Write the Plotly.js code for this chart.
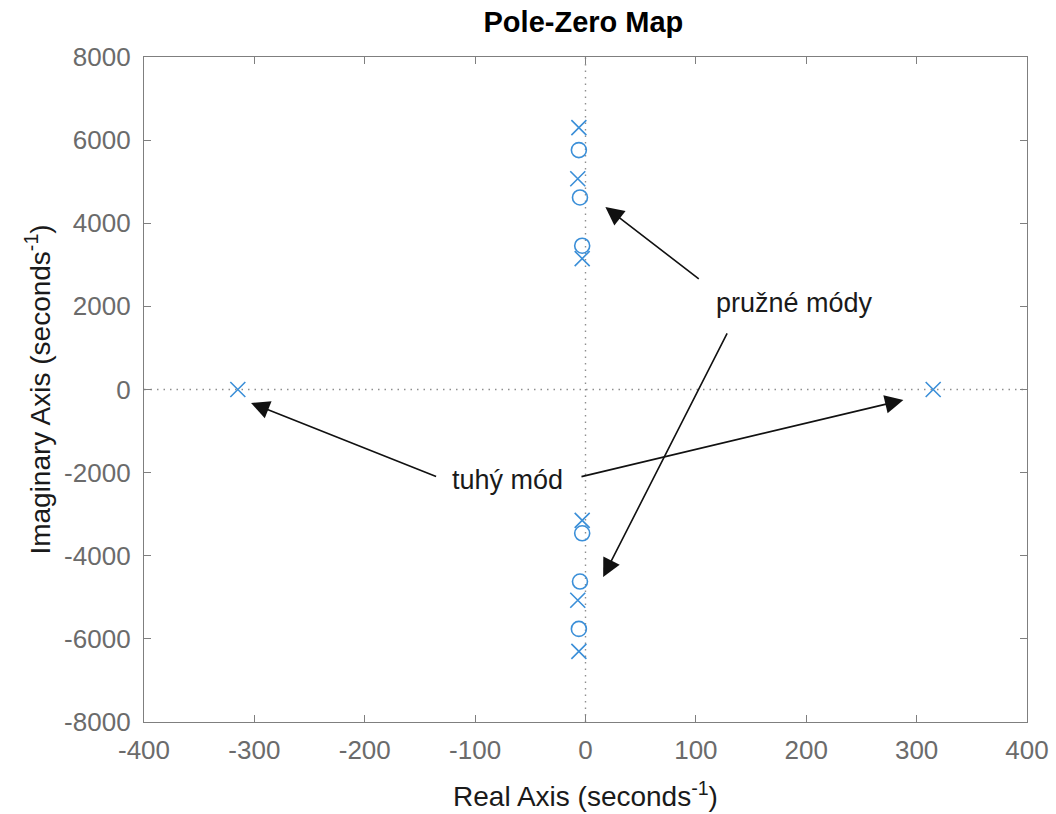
<!DOCTYPE html>
<html>
<head>
<meta charset="utf-8">
<script src="https://cdn.plot.ly/plotly-3.0.1.min.js"></script>
<style>html,body{margin:0;padding:0;background:#fff;}#chart{width:1056px;height:814px;}</style>
</head>
<body>
<div id="chart"></div>
<script>
// Poles (x) and zeros (o)
const poleRe = [-6, -7, -3, -3, -7, -6, -315, 315];
const poleIm = [6300, 5070, 3150, -3150, -5070, -6300, 0, 0];
const zeroRe = [-6, -5, -3, -3, -5, -6];
const zeroIm = [5760, 4620, 3460, -3460, -4620, -5760];

const xTickVals = [-400, -300, -200, -100, 0, 100, 200, 300, 400];
const xTickText = ["-400", "-300", "-200", "-100", "0", "100", "200", "300", "400"];
const yTickVals = [-8000, -6000, -4000, -2000, 0, 2000, 4000, 6000, 8000];
const yTickText = ["-8000", "-6000", "-4000", "-2000", "0", "2000", "4000", "6000", "8000"];

// Annotation labels and arrows (tail -> tip)
const labels = [
  {text: "pružné módy", x: 189, y: 2080},
  {text: "tuhý mód", x: -71, y: -2170}
];
const arrows = [
  {ax: 104, ay: 2635, x: 18, y: 4390},
  {ax: 129, ay: 1384, x: 16, y: -4510},
  {ax: -134, ay: -2105, x: -303, y: -325},
  {ax: -5, ay: -2105, x: 288, y: -253}
];

const blue = "#3b8fd8";
const font = "Liberation Sans, Arial, Helvetica, sans-serif";

const traces = [
  {type: "scatter", mode: "markers", x: poleRe, y: poleIm, name: "poles",
   marker: {symbol: "x-thin-open", size: 15, color: blue, line: {color: blue, width: 1.6}},
   hoverinfo: "x+y"},
  {type: "scatter", mode: "markers", x: zeroRe, y: zeroIm, name: "zeros",
   marker: {symbol: "circle-open", size: 15, color: blue, line: {color: blue, width: 1.6}},
   hoverinfo: "x+y"}
];

const annotations = [];
labels.forEach(l => annotations.push({
  x: l.x, y: l.y, xref: "x", yref: "y", text: l.text, showarrow: false,
  font: {family: font, size: 27, color: "#1a1a1a"}
}));
arrows.forEach(a => annotations.push({
  x: a.x, y: a.y, ax: a.ax, ay: a.ay, xref: "x", yref: "y", axref: "x", ayref: "y",
  text: "", showarrow: true, arrowhead: 2, arrowsize: 2.3, arrowwidth: 1.6, arrowcolor: "#111"
}));

const layout = {
  width: 1056, height: 814,
  margin: {l: 144, r: 29, t: 57, b: 92},
  paper_bgcolor: "#fff", plot_bgcolor: "#fff",
  showlegend: false,
  title: {text: "<b>Pole-Zero Map</b>", x: 0.5525, xanchor: "center", y: 0.973, yanchor: "middle",
          font: {family: font, size: 29, color: "#000"}},
  xaxis: {
    range: [-400, 400], tickvals: xTickVals, ticktext: xTickText,
    showgrid: false, zeroline: false, showline: true, mirror: "ticks",
    linecolor: "#7f7f7f", linewidth: 1.2,
    ticks: "inside", ticklen: 7, tickcolor: "#7f7f7f",
    ticklabelstandoff: 5,
    tickfont: {family: font, size: 26, color: "#6b6b6b"},
    title: {text: "Real Axis (seconds<sup>-1</sup>)", standoff: 22,
            font: {family: font, size: 28, color: "#1a1a1a"}}
  },
  yaxis: {
    range: [-8000, 8000], tickvals: yTickVals, ticktext: yTickText,
    showgrid: false, zeroline: false, showline: true, mirror: "ticks",
    linecolor: "#7f7f7f", linewidth: 1.2,
    ticks: "inside", ticklen: 7, tickcolor: "#7f7f7f",
    ticklabelstandoff: 7,
    tickfont: {family: font, size: 26, color: "#6b6b6b"},
    title: {text: "Imaginary Axis (seconds<sup>-1</sup>)", standoff: 5,
            font: {family: font, size: 28, color: "#1a1a1a"}}
  },
  shapes: [
    {type: "line", xref: "x", yref: "paper", x0: 0, x1: 0, y0: 0, y1: 1,
     line: {color: "#8f8f8f", width: 1.4, dash: "1.5px,5px"}, layer: "below"},
    {type: "line", xref: "paper", yref: "y", x0: 0, x1: 1, y0: 0, y1: 0,
     line: {color: "#8f8f8f", width: 1.4, dash: "1.5px,5px"}, layer: "below"}
  ],
  annotations: annotations
};

Plotly.newPlot("chart", traces, layout, {displayModeBar: false, staticPlot: true});
</script>
</body>
</html>
